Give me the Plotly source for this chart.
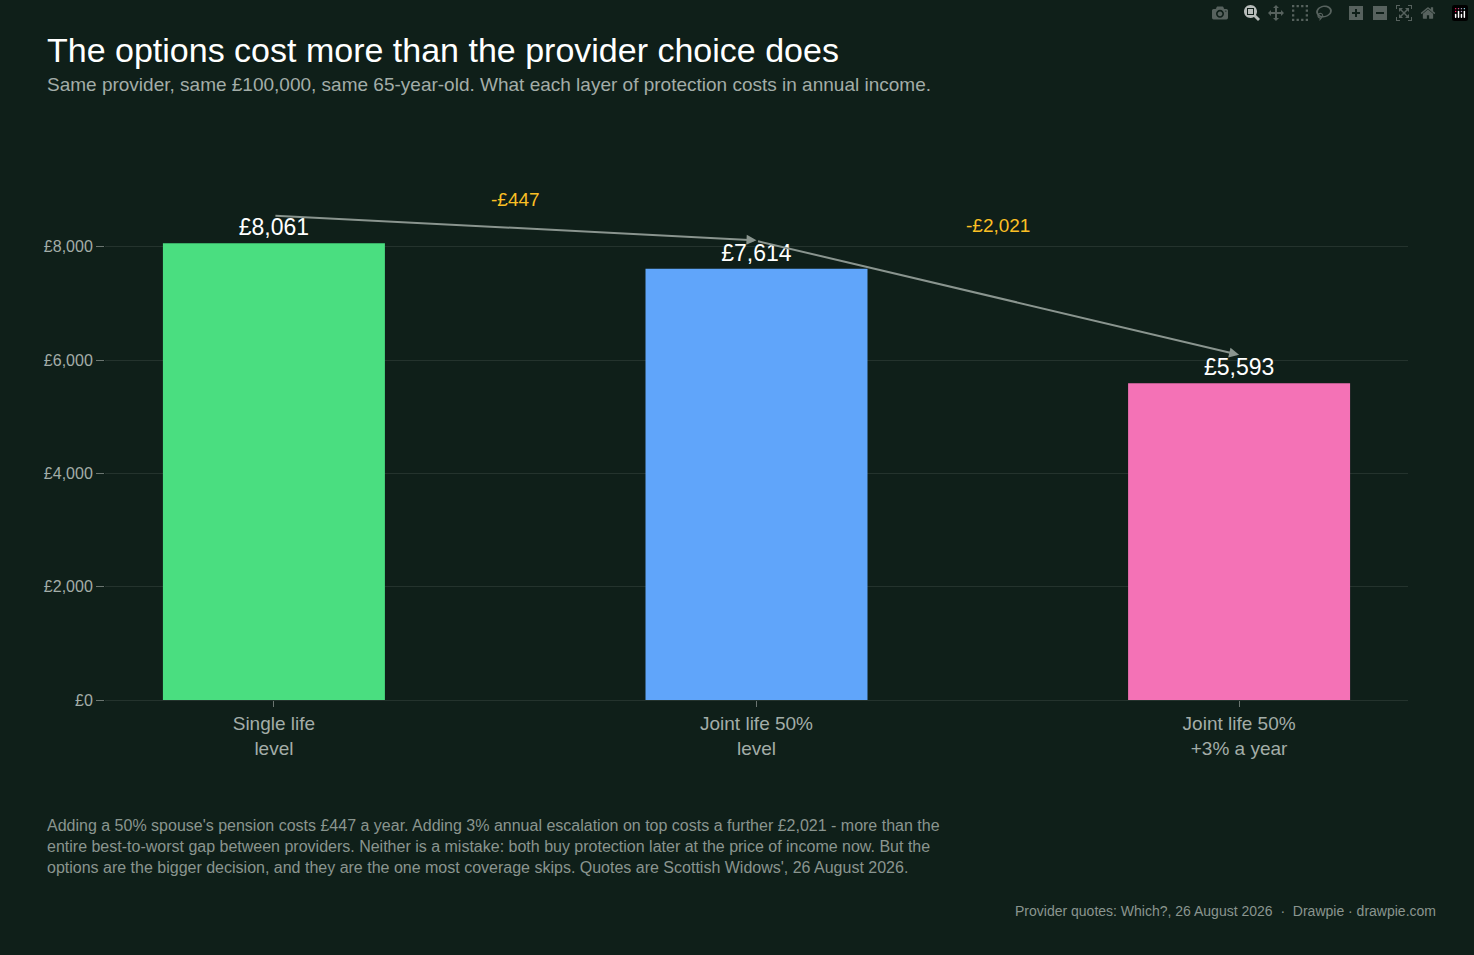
import plotly.graph_objects as go

categories = ["Single life<br>level", "Joint life 50%<br>level", "Joint life 50%<br>+3% a year"]
values = [8061, 7614, 5593]
labels = ["£8,061", "£7,614", "£5,593"]
colors = ["#4ade80", "#60a5fa", "#f472b6"]
deltas = ["-£447", "-£2,021"]
tickvals = [0, 2000, 4000, 6000, 8000]
ticktext = ["£0", "£2,000", "£4,000", "£6,000", "£8,000"]

BG = "#0f1f19"
FONT = "Liberation Sans, Arial, sans-serif"

fig = go.Figure(go.Bar(
    x=[0, 1, 2], y=values, marker=dict(color=colors, line=dict(width=0)),
    width=0.46, text=labels, textposition="outside", cliponaxis=False,
    textfont=dict(color="#ffffff", size=23, family=FONT), hoverinfo="skip"))

for i in range(2):
    fig.add_annotation(x=i + 1, y=values[i + 1] + 500, ax=i, ay=values[i] + 490,
                       xref="x", yref="y", axref="x", ayref="y", text="",
                       showarrow=True, arrowhead=2, arrowsize=1, arrowwidth=2,
                       arrowcolor="#8a958f")
    fig.add_annotation(x=i + 0.5, y=[8834, 8374][i], text=deltas[i], showarrow=False,
                       font=dict(color="#fbbf24", size=19, family=FONT))

fig.update_layout(
    width=1474, height=955, paper_bgcolor=BG, plot_bgcolor=BG,
    margin=dict(l=105, r=66, t=152, b=255), showlegend=False,
    font=dict(family=FONT, color="#a3ada8"),
    xaxis=dict(tickmode="array", tickvals=[0, 1, 2], ticktext=categories,
               range=[-0.35, 2.35], tickfont=dict(size=19, color="#a3ada8"),
               ticks="outside", ticklen=6, tickcolor="#6b7570", showgrid=False,
               showline=True, linecolor="#24332d", zeroline=False),
    yaxis=dict(tickmode="array", tickvals=tickvals, ticktext=ticktext,
               range=[0, 9673], tickfont=dict(size=16, color="#a3ada8"),
               ticks="outside", ticklen=8, tickcolor="#6b7570",
               gridcolor="#24332d", zeroline=False, showline=False),
)

fig.add_annotation(xref="paper", yref="paper", x=-0.0461, y=1 + 102/548, xanchor="left", yanchor="middle",
                   text="The options cost more than the provider choice does", showarrow=False,
                   font=dict(size=34, color="#ffffff", family=FONT))
fig.add_annotation(xref="paper", yref="paper", x=-0.0461, y=1 + 68/548, xanchor="left", yanchor="middle",
                   text="Same provider, same £100,000, same 65-year-old. What each layer of protection costs in annual income.",
                   showarrow=False, font=dict(size=19, color="#a3ada8", family=FONT))
fig.add_annotation(xref="paper", yref="paper", x=-0.0461, y=-(815 - 700) / 548, xanchor="left", yanchor="top",
                   align="left",
                   text="Adding a 50% spouse's pension costs £447 a year. Adding 3% annual escalation on top costs a further £2,021 - more than the<br>"
                        "entire best-to-worst gap between providers. Neither is a mistake: both buy protection later at the price of income now. But the<br>"
                        "options are the bigger decision, and they are the one most coverage skips. Quotes are Scottish Widows', 26 August 2026.",
                   showarrow=False, font=dict(size=16, color="#8a958f", family=FONT))
fig.add_annotation(xref="paper", yref="paper", x=(1438 - 105) / 1303, y=-(911 - 700) / 548, xanchor="right", yanchor="middle",
                   text="Provider quotes: Which?, 26 August 2026  ·  Drawpie · drawpie.com",
                   showarrow=False, font=dict(size=14, color="#8a958f", family=FONT))

fig.write_html("out.html", post_script="document.body.style.margin='0';document.body.style.background='#0f1f19';")
